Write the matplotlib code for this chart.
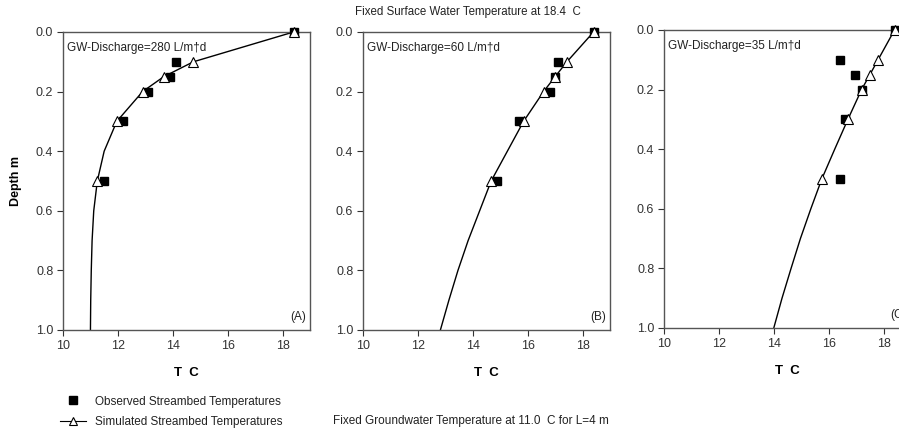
import matplotlib
matplotlib.use("Agg")
import matplotlib.pyplot as plt
from matplotlib.lines import Line2D

plt.rcParams['font.family'] = ['Liberation Sans', 'DejaVu Sans']

depths_pts = [0.0, 0.1, 0.15, 0.2, 0.3, 0.5]

obs_A = [18.4, 14.1, 13.9, 13.1, 12.2, 11.5]
sim_A = [18.4, 14.75, 13.67, 12.9, 11.96, 11.25]
obs_B = [18.4, 17.1, 17.0, 16.8, 15.7, 14.9]
sim_B = [18.4, 17.43, 17.0, 16.58, 15.85, 14.67]
obs_C = [18.4, 16.4, 16.95, 17.2, 16.6, 16.4]
sim_C = [18.4, 17.8, 17.5, 17.2, 16.7, 15.75]

curve_depth = [0.0, 0.1, 0.15, 0.2, 0.3, 0.4, 0.5, 0.6, 0.7, 0.8, 0.9, 1.0]
curve_A = [18.4, 14.75, 13.67, 12.9, 11.96, 11.5, 11.25, 11.12, 11.06, 11.03, 11.01, 11.0]
curve_B = [18.4, 17.43, 17.0, 16.58, 15.85, 15.26, 14.67, 14.25, 13.83, 13.46, 13.13, 12.82]
curve_C = [18.4, 17.8, 17.5, 17.2, 16.7, 16.22, 15.75, 15.35, 14.97, 14.63, 14.3, 14.0]

labels = ["GW-Discharge=280 L/m\u2020d", "GW-Discharge=60 L/m\u2020d", "GW-Discharge=35 L/m\u2020d"]
panel_tags = ["(A)", "(B)", "(C)"]
xticks = [10, 12, 14, 16, 18]
yticks = [0.0, 0.2, 0.4, 0.6, 0.8, 1.0]

fig = plt.figure(figsize=(8.99, 4.28), dpi=100)

W = 247 / 899
lefts = [63 / 899, 363 / 899, 664 / 899]
bottoms = [(428 - 330) / 428, (428 - 330) / 428, (428 - 328) / 428]
H = 298 / 428

data = [(obs_A, sim_A, curve_A), (obs_B, sim_B, curve_B), (obs_C, sim_C, curve_C)]
spine_col = '#555555'
txt_col = '#222222'
for i, (obs, sim, curve) in enumerate(data):
    ax = fig.add_axes([lefts[i], bottoms[i], W, H])
    ax.plot(curve, curve_depth, color='black', lw=1.0, zorder=2)
    ax.plot(obs, depths_pts, linestyle='none', marker='s', ms=6, mfc='black',
            mec='black', zorder=3, clip_on=False)
    ax.plot(sim, depths_pts, linestyle='none', marker='^', ms=6.5, mfc='white',
            mec='black', mew=0.8, zorder=4, clip_on=False)
    ax.set_xlim(10, 19)
    ax.set_ylim(1.0, 0.0)
    ax.set_xticks(xticks)
    ax.set_xticklabels([str(t) for t in xticks])
    ax.set_yticks(yticks)
    ax.set_yticklabels([f"{t:.1f}" for t in yticks])
    ax.tick_params(direction='out', length=4, width=0.8, labelsize=9,
                   colors='#333333', top=False, right=False, pad=3)
    for s in ax.spines.values():
        s.set_color(spine_col)
        s.set_linewidth(1.0)
    ax.set_xlabel("T  C", fontsize=9.5, fontweight='bold', labelpad=11)
    ax.text(0.015, 0.965, labels[i], transform=ax.transAxes, fontsize=8.5,
            va='top', ha='left', color=txt_col)
    ax.text(18.85, 0.975, panel_tags[i], fontsize=8.5, va='bottom', ha='right',
            color=txt_col)
    if i == 0:
        ax.set_ylabel("Depth m", fontsize=9, fontweight='bold')
        ax.yaxis.set_label_coords(-(63 - 22) / 247, 0.5)

fig.text(468 / 899, 1 - 12 / 428, "Fixed Surface Water Temperature at 18.4  C",
         fontsize=8.3, ha='center', va='center', color=txt_col)
fig.text(471 / 899, 1 - 421 / 428, "Fixed Groundwater Temperature at 11.0  C for L=4 m",
         fontsize=8.5, ha='center', va='center', color=txt_col)

handles = [
    Line2D([], [], linestyle='none', marker='s', ms=6, mfc='black', mec='black'),
    Line2D([], [], color='black', lw=0.8, marker='^', ms=6, mfc='white', mec='black', mew=0.8),
]
fig.legend(handles, ["Observed Streambed Temperatures", "Simulated Streambed Temperatures"],
           loc='center left', bbox_to_anchor=(60 / 899, 1 - 412 / 428), frameon=False,
           fontsize=8.5, handlelength=2.2, handletextpad=0.8, labelspacing=0.75,
           borderpad=0, borderaxespad=0, labelcolor=txt_col)

fig.savefig("out.png", dpi=100)
